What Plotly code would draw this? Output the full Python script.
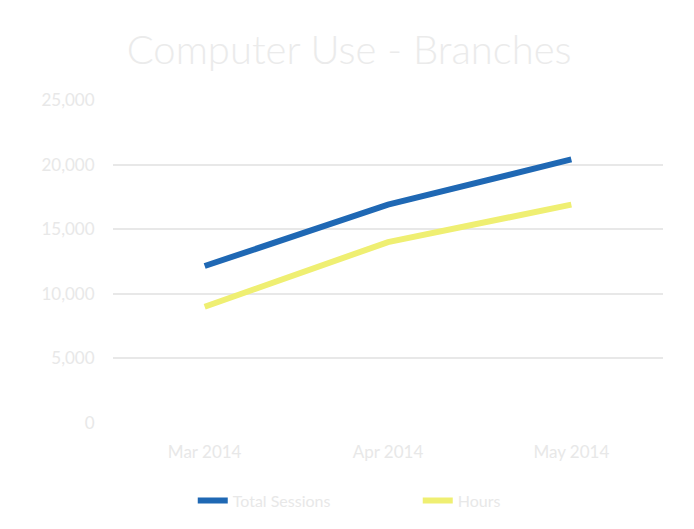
import plotly.graph_objects as go

# Monthly computer use across branches
months = ["Mar 2014", "Apr 2014", "May 2014"]
sessions = [12150, 16900, 20400]
hours = [9000, 14000, 16900]
y_ticks = [0, 5000, 10000, 15000, 20000, 25000]
y_labels = ["0", "5,000", "10,000", "15,000", "20,000", "25,000"]

text_color = "#e8e8e8"

fig = go.Figure()
fig.add_trace(go.Scatter(
    x=months, y=sessions, mode="lines", name="Total Sessions",
    line=dict(color="#1f68b4", width=6),
))
fig.add_trace(go.Scatter(
    x=months, y=hours, mode="lines", name="Hours",
    line=dict(color="#efef72", width=6),
))

fig.update_layout(
    width=694, height=529,
    paper_bgcolor="white", plot_bgcolor="white",
    margin=dict(l=113, r=31, t=100, b=104),
    font=dict(family="Lato, sans-serif", color=text_color, size=16),
    title=dict(text="Computer Use - Branches", x=0.503, xanchor="center",
               y=0.905, yanchor="middle",
               font=dict(size=40, color="#ebebeb", family="Lato, sans-serif", weight=300)),
    showlegend=True,
    legend=dict(orientation="h", x=0.145, xanchor="left", y=-0.24, yanchor="middle",
                entrywidth=180, entrywidthmode="pixels",
                font=dict(size=16, color=text_color)),
    xaxis=dict(type="category", range=[-0.5, 2.5], showgrid=False, zeroline=False,
               showline=False, ticks="outside", ticklen=14, tickcolor="rgba(0,0,0,0)",
               tickfont=dict(size=17, color=text_color)),
    yaxis=dict(range=[0, 25000], tickvals=y_ticks, ticktext=y_labels,
               showgrid=True, gridcolor="#e8e8e8", gridwidth=2,
               zeroline=False, showline=False, ticks="outside", ticklen=14,
               tickcolor="rgba(0,0,0,0)",
               tickfont=dict(size=17, color=text_color)),
)

fig.write_html("out.html")
